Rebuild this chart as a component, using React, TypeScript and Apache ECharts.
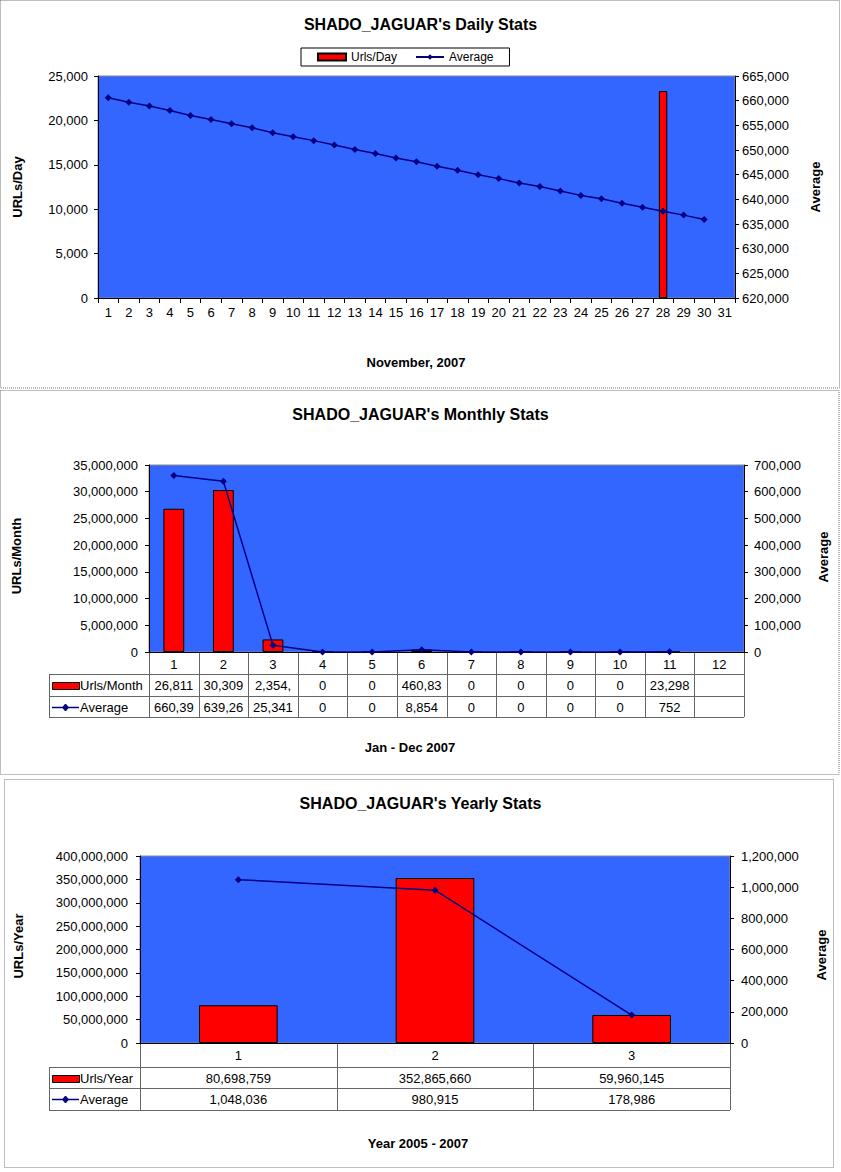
import React, { useEffect, useRef } from 'react';
import * as echarts from 'echarts';

const FONT = '"Liberation Sans", Arial, Helvetica, sans-serif';

// ---------- DATA ----------
const dailyCategories = ['1', '2', '3', '4', '5', '6', '7', '8', '9', '10', '11', '12', '13', '14', '15', '16', '17', '18', '19', '20', '21', '22', '23', '24', '25', '26', '27', '28', '29', '30', '31'];
const dailyUrls = [null, null, null, null, null, null, null, null, null, null, null, null, null, null, null, null, null, null, null, null, null, null, null, null, null, null, null, 23298, null, null, null];
const dailyAverage = [660600, 659700, 658900, 658000, 657000, 656200, 655300, 654500, 653500, 652700, 651900, 651000, 650100, 649300, 648400, 647600, 646700, 645900, 645000, 644200, 643300, 642600, 641700, 640800, 640100, 639200, 638400, 637600, 636800, 635900, null];

const monthlyCategories = ['1', '2', '3', '4', '5', '6', '7', '8', '9', '10', '11', '12'];
const monthlyUrls = [26811000, 30309000, 2354000, 0, 0, 460830, 0, 0, 0, 0, 23298, null];
const monthlyAverage = [660395, 639265, 25341, 0, 0, 8854, 0, 0, 0, 0, 752, null];

const yearlyCategories = ['1', '2', '3'];
const yearlyUrls = [80698759, 352865660, 59960145];
const yearlyAverage = [1048036, 980915, 178986];

const dailyLeftTicks = { min: 0, max: 25000, interval: 5000 };
const dailyRightTicks = { min: 620000, max: 665000, interval: 5000 };
const monthlyLeftTicks = { min: 0, max: 35000000, interval: 5000000 };
const monthlyRightTicks = { min: 0, max: 700000, interval: 100000 };
const yearlyLeftTicks = { min: 0, max: 400000000, interval: 50000000 };
const yearlyRightTicks = { min: 0, max: 1200000, interval: 200000 };

// ---------- LAYOUT ----------
const G1 = { left: 98, top: 76, width: 637, height: 222 };
const G2 = { left: 149, top: 465, width: 595, height: 187 };
const G3 = { left: 140, top: 856, width: 590, height: 187 };

const RED = '#FF0000';
const NAVY = '#000080';
const PLOT_BG = '#3366FF';

const fmt = (v: number) => v.toLocaleString('en-US');

function txt(x: number, y: number, text: string, opts: any = {}) {
  const align = opts.align || 'center';
  return {
    type: 'text',
    x,
    y,
    rotation: opts.rotation || 0,
    silent: true,
    style: {
      text,
      font: opts.font || `13px ${FONT}`,
      fill: '#000',
      align,
      verticalAlign: 'middle',
      textAlign: align,
      textVerticalAlign: 'middle',
    },
  };
}

function ln(x1: number, y1: number, x2: number, y2: number, color = '#666') {
  return {
    type: 'line',
    silent: true,
    shape: { x1, y1, x2, y2 },
    style: { stroke: color, lineWidth: 1 },
  };
}

function buildTable(
  grid: { left: number; top: number; width: number; height: number },
  cats: string[],
  urls: (number | null)[],
  avg: (number | null)[],
  legendLeft: number,
  rows: number[],
  urlsName: string,
  maxChars: number
) {
  const els: any[] = [];
  const n = cats.length;
  const cw = grid.width / n;
  const right = grid.left + grid.width;
  const [y0, y1, y2, y3] = rows;
  // horizontal lines
  els.push(ln(grid.left, y0 + 0.5, right, y0 + 0.5));
  els.push(ln(legendLeft, y1 + 0.5, right, y1 + 0.5));
  els.push(ln(legendLeft, y2 + 0.5, right, y2 + 0.5));
  els.push(ln(legendLeft, y3 + 0.5, right, y3 + 0.5));
  // vertical lines
  els.push(ln(legendLeft + 0.5, y1, legendLeft + 0.5, y3));
  for (let i = 0; i <= n; i++) {
    const x = Math.round(grid.left + i * cw) + 0.5;
    els.push(ln(x, y0, x, y3));
  }
  // values
  const cut = (v: number | null) => (v == null ? '' : fmt(v).slice(0, maxChars));
  for (let i = 0; i < n; i++) {
    const cx = grid.left + (i + 0.5) * cw;
    els.push(txt(cx, (y1 + y2) / 2 + 0.5, cut(urls[i])));
    els.push(txt(cx, (y2 + y3) / 2 + 0.5, cut(avg[i])));
  }
  // legend keys
  const r2 = (y1 + y2) / 2;
  const r3 = (y2 + y3) / 2;
  els.push({
    type: 'rect',
    silent: true,
    shape: { x: legendLeft + 3.5, y: Math.round(r2 - 3) + 0.5, width: 27, height: 7 },
    style: { fill: RED, stroke: '#000', lineWidth: 1 },
  });
  els.push(txt(legendLeft + 31, r2 + 0.5, urlsName, { align: 'left' }));
  els.push({
    type: 'line',
    silent: true,
    shape: { x1: legendLeft + 3, y1: Math.round(r3) + 0.5, x2: legendLeft + 30, y2: Math.round(r3) + 0.5 },
    style: { stroke: NAVY, lineWidth: 1.5 },
  });
  const dx = legendLeft + 16.5;
  const dy = Math.round(r3) + 0.5;
  els.push({
    type: 'polygon',
    silent: true,
    shape: { points: [[dx, dy - 3.5], [dx + 3, dy], [dx, dy + 3.5], [dx - 3, dy]] },
    style: { fill: NAVY, stroke: NAVY },
  });
  els.push(txt(legendLeft + 31, r3 + 0.5, 'Average', { align: 'left' }));
  return els;
}

function panel(x: number, y: number, w: number, h: number) {
  return {
    type: 'rect',
    silent: true,
    shape: { x, y, width: w, height: h },
    style: { fill: 'transparent', stroke: '#7a7a7a', lineWidth: 1, lineDash: [1, 1] },
  };
}

function yAxis(gridIndex: number, ticks: any, position: string, margin: number) {
  return {
    type: 'value',
    gridIndex,
    position,
    min: ticks.min,
    max: ticks.max,
    interval: ticks.interval,
    axisLine: { show: true, lineStyle: { color: '#000', width: 1 } },
    axisTick: { show: true, inside: false, length: 4, lineStyle: { color: '#000' } },
    splitLine: { show: false },
    axisLabel: {
      margin,
      color: '#000',
      fontSize: 13,
      fontFamily: FONT,
      formatter: (v: number) => fmt(v),
    },
  };
}

function xAxis(gridIndex: number, data: string[], ticks: boolean, margin: number) {
  return {
    type: 'category',
    gridIndex,
    data,
    axisLine: { show: true, lineStyle: { color: '#000', width: 1 } },
    axisTick: { show: ticks, interval: 0, length: 5, lineStyle: { color: '#000' } },
    splitLine: { show: false },
    axisLabel: { interval: 0, margin, color: '#000', fontSize: 13, fontFamily: FONT },
  };
}

function gridOpt(g: any) {
  return {
    left: g.left,
    top: g.top,
    width: g.width,
    height: g.height,
    show: true,
    backgroundColor: PLOT_BG,
    borderColor: '#8a8a8a',
    borderWidth: 1,
    containLabel: false,
  };
}

const barStyle = { color: RED, borderColor: '#000', borderWidth: 1 };
const lineCommon = {
  type: 'line',
  symbol: 'diamond',
  symbolSize: 7,
  lineStyle: { color: NAVY, width: 1.5 },
  itemStyle: { color: NAVY },
  connectNulls: false,
  z: 5,
};

export default function App() {
  const ref = useRef<HTMLDivElement>(null);

  useEffect(() => {
    document.body.style.margin = '0';
    if (!ref.current) return;
    const chart = echarts.init(ref.current, null, { renderer: 'svg' });

    const titleStyle = { fontSize: 16, fontWeight: 'bold', fontFamily: FONT, color: '#000' };
    const boldName = `bold 13px ${FONT}`;

    const graphics: any[] = [
      panel(0.5, 0.5, 839, 387.5),
      panel(0.5, 390.5, 838.5, 384),
      panel(4.5, 779.5, 829, 388),
      // axis titles
      txt(17, 187, 'URLs/Day', { font: boldName, rotation: Math.PI / 2 }),
      txt(815, 187, 'Average', { font: boldName, rotation: Math.PI / 2 }),
      txt(416, 362, 'November, 2007', { font: boldName }),
      txt(16, 556, 'URLs/Month', { font: boldName, rotation: Math.PI / 2 }),
      txt(823, 557, 'Average', { font: boldName, rotation: Math.PI / 2 }),
      txt(410, 747, 'Jan - Dec 2007', { font: boldName }),
      txt(18, 946, 'URLs/Year', { font: boldName, rotation: Math.PI / 2 }),
      txt(821, 955, 'Average', { font: boldName, rotation: Math.PI / 2 }),
      txt(418, 1143, 'Year 2005 - 2007', { font: boldName }),
      ...buildTable(G2, monthlyCategories, monthlyUrls, monthlyAverage, 49, [652, 674, 696, 717], 'Urls/Month', 6),
      ...buildTable(G3, yearlyCategories, yearlyUrls, yearlyAverage, 49, [1043, 1067, 1088, 1110], 'Urls/Year', 20),
    ];

    const option: any = {
      animation: false,
      backgroundColor: '#fff',
      title: [
        { text: "SHADO_JAGUAR's Daily Stats", left: 'center', top: 16, padding: 0, textStyle: titleStyle },
        { text: "SHADO_JAGUAR's Monthly Stats", left: 'center', top: 406, padding: 0, textStyle: titleStyle },
        { text: "SHADO_JAGUAR's Yearly Stats", left: 'center', top: 795, padding: 0, textStyle: titleStyle },
      ],
      legend: {
        data: [{ name: 'Urls/Day', icon: 'rect' }, { name: 'Average' }],
        left: 301,
        top: 48,
        orient: 'horizontal',
        padding: [3, 16],
        itemGap: 18,
        itemWidth: 28,
        itemHeight: 7,
        borderColor: '#000',
        borderWidth: 1,
        backgroundColor: '#fff',
        selectedMode: false,
        textStyle: { fontSize: 12, fontFamily: FONT, color: '#000' },
      },
      grid: [gridOpt(G1), gridOpt(G2), gridOpt(G3)],
      xAxis: [
        xAxis(0, dailyCategories, true, 8),
        xAxis(1, monthlyCategories, false, 6),
        xAxis(2, yearlyCategories, false, 6),
      ],
      yAxis: [
        yAxis(0, dailyLeftTicks, 'left', 10),
        yAxis(0, dailyRightTicks, 'right', 7),
        yAxis(1, monthlyLeftTicks, 'left', 11),
        yAxis(1, monthlyRightTicks, 'right', 10),
        yAxis(2, yearlyLeftTicks, 'left', 12),
        yAxis(2, yearlyRightTicks, 'right', 11),
      ],
      series: [
        { name: 'Urls/Day', type: 'bar', xAxisIndex: 0, yAxisIndex: 0, data: dailyUrls, barWidth: '41%', itemStyle: barStyle },
        { ...lineCommon, name: 'Average', xAxisIndex: 0, yAxisIndex: 1, data: dailyAverage },
        { name: 'Urls/Month', type: 'bar', xAxisIndex: 1, yAxisIndex: 2, data: monthlyUrls, barWidth: '42%', itemStyle: barStyle },
        { ...lineCommon, name: 'Average', xAxisIndex: 1, yAxisIndex: 3, data: monthlyAverage },
        { name: 'Urls/Year', type: 'bar', xAxisIndex: 2, yAxisIndex: 4, data: yearlyUrls, barWidth: '40%', itemStyle: barStyle },
        { ...lineCommon, name: 'Average', xAxisIndex: 2, yAxisIndex: 5, data: yearlyAverage },
      ],
      graphic: { elements: graphics },
    };

    chart.setOption(option);
    return () => chart.dispose();
  }, []);

  return <div ref={ref} style={{ width: 841, height: 1172, background: '#fff' }} />;
}
